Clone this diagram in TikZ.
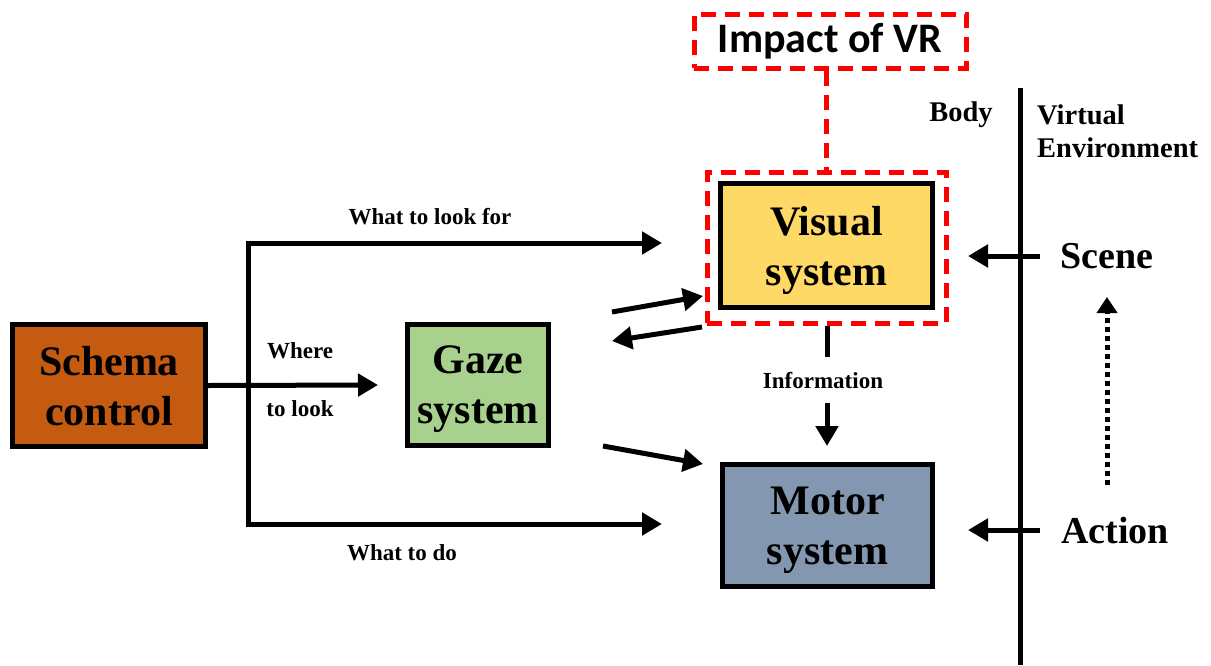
\documentclass[tikz,border=0pt]{standalone}
\usepackage{fontspec}
\setmainfont{Liberation Serif}
\newfontfamily\impactfont{Carlito}
\usetikzlibrary{arrows.meta}
\definecolor{schemaC}{HTML}{C55A11}
\definecolor{gazeC}{HTML}{A9D18E}
\definecolor{visualC}{HTML}{FFD966}
\definecolor{motorC}{HTML}{8497B0}
\definecolor{redC}{HTML}{FF0000}
\begin{document}
\begin{tikzpicture}[x=1pt,y=-1pt,
  box/.style={draw, line width=5pt, inner sep=0pt, align=center, text depth=0pt, font=\bfseries\fontsize{42}{50}\selectfont},
  lbl/.style={inner sep=0pt, font=\bfseries\fontsize{23}{28}\selectfont},
  biglbl/.style={inner sep=0pt, font=\bfseries\fontsize{38}{44}\selectfont},
  sidelbl/.style={inner sep=0pt, align=left, font=\bfseries\fontsize{28.5}{33}\selectfont},
  arr/.style={line width=5pt, -{Triangle[length=20pt,width=22pt]}},
  plain/.style={line width=5pt},
  reddash/.style={draw=redC, line width=5pt, dash pattern=on 15pt off 9pt},
  dotarr/.style={line width=5pt, dash pattern=on 5pt off 4pt, -{Triangle[length=16pt,width=20pt]}}
]
\useasboundingbox (0,0) rectangle (1211,665);

% boxes
\node[box, fill=schemaC, minimum width=193pt, minimum height=122pt] (schema) at (109,385.5) {Schema\\control};
\node[box, fill=gazeC, minimum width=141pt, minimum height=121pt] (gaze) at (478,385) {Gaze\\system};
\node[box, fill=visualC, minimum width=212pt, minimum height=124pt] (visual) at (826.5,245.5) {Visual\\system};
\node[box, fill=motorC, minimum width=210pt, minimum height=122pt] (motor) at (827.5,525.5) {Motor\\system};

% red dashed frames
\node[reddash, inner sep=0pt, minimum width=239pt, minimum height=151pt] (vrframe) at (826.5,247.5) {};
\node[reddash, inner sep=0pt, minimum width=272pt, minimum height=54pt, font=\impactfont\bfseries\fontsize{42}{48}\selectfont] (impact) at (830,41) {Impact of VR};
\draw[reddash] (impact.south -| vrframe.north) -- (vrframe.north);

% schema branches
\coordinate (split) at (248,385);
\coordinate (topc) at (248,243);
\coordinate (botc) at (248,524);
\coordinate (lookforEnd) at (662,243);
\coordinate (todoEnd) at (662,524);
\coordinate (whereEnd) at (378,385);
\draw[arr] (schema.east) -- (whereEnd);
\draw[plain] ([yshift=2.5pt]topc) -- ([yshift=-2.5pt]botc);
\draw[arr] ([xshift=-2.5pt]topc) -- (lookforEnd);
\draw[arr] ([xshift=-2.5pt]botc) -- (todoEnd);

\node[lbl] (lookfor) at (430,217) {What to look for};
\node[lbl] (where) at (300,351) {Where};
\node[lbl] (tolook) at (300,409) {to look};
\node[lbl] (todo) at (402,553) {What to do};

% gaze <-> visual, gaze -> motor
\coordinate (g2vS) at (612,312);
\coordinate (g2vE) at (703,296);
\coordinate (v2gS) at (702,327);
\coordinate (v2gE) at (612,341);
\coordinate (g2mS) at (603,446);
\coordinate (g2mE) at (703,464);
\draw[arr] (g2vS) -- (g2vE);
\draw[arr] (v2gS) -- (v2gE);
\draw[arr] (g2mS) -- (g2mE);

% visual -> motor information
\coordinate (infoA) at (827,357);
\coordinate (infoB) at (827,403);
\coordinate (infoC) at (827,446);
\draw[plain] (vrframe.south -| infoA) -- (infoA);
\draw[arr] (infoB) -- (infoC);
\node[lbl] (info) at (823,381) {Information};

% body / environment
\coordinate (lineTop) at (1020,88);
\coordinate (lineBot) at (1020,665);
\draw[plain] (lineTop) -- (lineBot);
\node[sidelbl] (body) at (961,115) {Body};
\node[sidelbl, anchor=west] (venv) at (1037,131) {Virtual\\Environment};

\node[biglbl] (scene) at (1107,256) {Scene};
\node[biglbl] (action) at (1115,530) {Action};
\coordinate (sceneS) at (1040,256);
\coordinate (sceneE) at (968,256);
\coordinate (actionS) at (1040,530);
\coordinate (actionE) at (968,530);
\draw[arr] (sceneS) -- (sceneE);
\draw[arr] (actionS) -- (actionE);

\coordinate (dotS) at (1107,485);
\coordinate (dotE) at (1107,297);
\draw[dotarr] (dotS) -- (dotE);
\end{tikzpicture}
\end{document}
